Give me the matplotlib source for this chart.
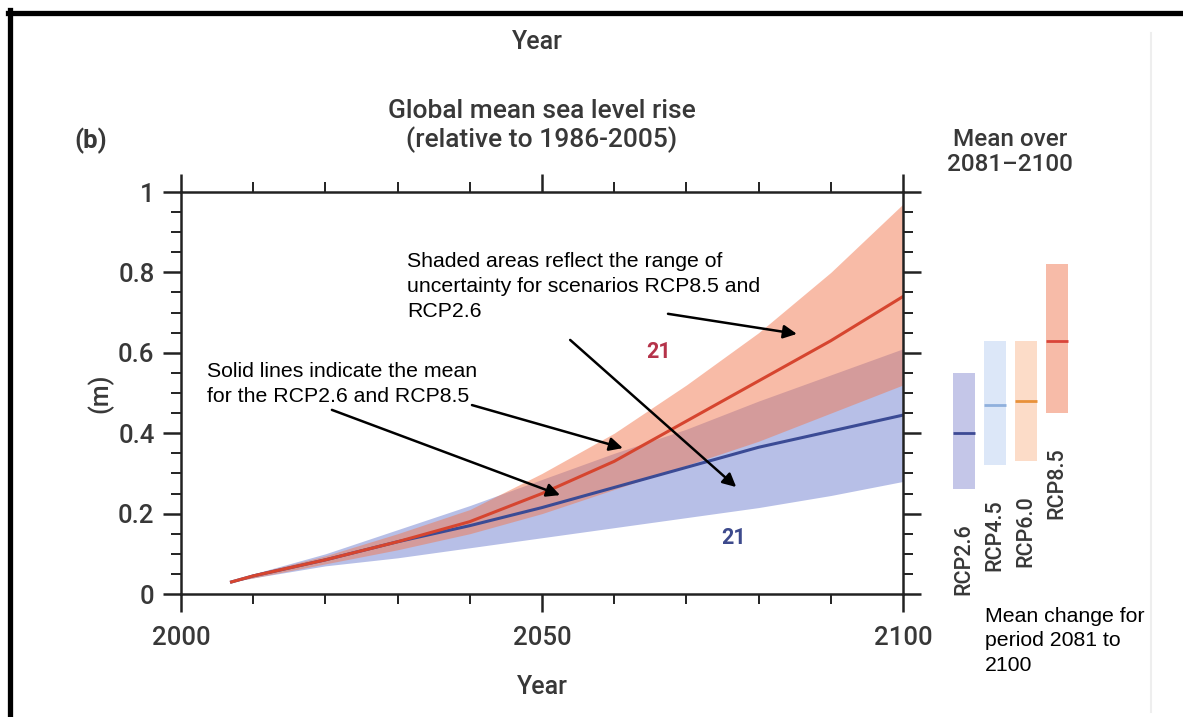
import matplotlib
matplotlib.use("Agg")
import matplotlib.pyplot as plt
from matplotlib.lines import Line2D

# time series
years = [2007, 2010, 2020, 2030, 2040, 2050, 2060, 2070, 2080, 2090, 2100]
rcp85_mean = [0.03, 0.045, 0.085, 0.13, 0.18, 0.25, 0.33, 0.43, 0.53, 0.63, 0.74]
rcp85_low = [0.03, 0.04, 0.075, 0.11, 0.15, 0.20, 0.26, 0.32, 0.38, 0.45, 0.52]
rcp85_high = [0.03, 0.05, 0.095, 0.15, 0.21, 0.30, 0.40, 0.52, 0.65, 0.80, 0.97]
rcp26_mean = [0.03, 0.045, 0.085, 0.13, 0.17, 0.215, 0.265, 0.315, 0.365, 0.405, 0.445]
rcp26_low = [0.03, 0.04, 0.07, 0.09, 0.115, 0.14, 0.165, 0.19, 0.215, 0.245, 0.28]
rcp26_high = [0.03, 0.05, 0.10, 0.16, 0.22, 0.285, 0.35, 0.41, 0.48, 0.545, 0.61]

# side panel: mean over 2081-2100
scenarios = ["RCP2.6", "RCP4.5", "RCP6.0", "RCP8.5"]
bar_low = [0.26, 0.32, 0.33, 0.45]
bar_high = [0.55, 0.63, 0.63, 0.82]
bar_mean = [0.40, 0.47, 0.48, 0.63]
bar_colors = ["#c4c6e8", "#dce7f8", "#fcdcc8", "#f7bba8"]
mean_colors = ["#3d4a94", "#8fb0dc", "#e8913a", "#d9453a"]

W, H = 1183, 717
cond = "Roboto"
arial = "Liberation Sans"
grey = "#383838"


def fx(px):
    return px / W


def fy(py):
    return 1 - py / H


fig = plt.figure(figsize=(W / 100, H / 100), dpi=100)

# main axes
ax = fig.add_axes([fx(181), fy(594), fx(903) - fx(181), fy(192) - fy(594)])
ax.fill_between(years, rcp26_low, rcp26_high, color="#7080d0", alpha=0.5, lw=0)
ax.fill_between(years, rcp85_low, rcp85_high, color="#f27850", alpha=0.5, lw=0)
ax.plot(years, rcp26_mean, color="#3b4b95", lw=2.2)
ax.plot(years, rcp85_mean, color="#d6452f", lw=2.2)

ax.set_xlim(2000, 2100)
ax.set_ylim(0, 1)
ax.set_xticks([2000, 2050, 2100])
ax.set_xticks(range(2000, 2101, 10), minor=True)
ax.set_yticks([0, 0.2, 0.4, 0.6, 0.8, 1])
ax.set_yticklabels(["0", "0.2", "0.4", "0.6", "0.8", "1"])
ax.set_yticks([i * 0.05 for i in range(21)], minor=True)
ax.tick_params(which="both", direction="out", top=True, right=True, colors="#222222",
               labelcolor=grey, labelsize=18.5, width=1.8)
ax.tick_params(which="major", length=13)
ax.tick_params(which="minor", length=7, width=1.4)
ax.tick_params(axis="x", pad=10)
ax.tick_params(axis="y", pad=6)
for lab in ax.get_xticklabels() + ax.get_yticklabels():
    lab.set_family(cond)
    lab.set_fontweight("medium")
for s in ax.spines.values():
    s.set_linewidth(1.8)
    s.set_color("#222222")

ax.set_xlabel("Year", fontsize=18, family=cond, color=grey, labelpad=18, fontweight="medium")

ax.text(2066.2, 0.602, "21", color="#b5334a", fontsize=15.5, fontweight="bold",
        family=cond, ha="center", va="center")
ax.text(2076.5, 0.139, "21", color="#3d4a8c", fontsize=15.5, fontweight="bold",
        family=cond, ha="center", va="center")

ax.text(2003.6, 0.522, "Solid lines indicate the mean\nfor the RCP2.6 and RCP8.5",
        family=arial, fontsize=15.3, ha="left", va="center", linespacing=1.38)
ax.text(2031.3, 0.765, "Shaded areas reflect the range of\nuncertainty for scenarios RCP8.5 and\nRCP2.6",
        family=arial, fontsize=15.3, ha="left", va="center", linespacing=1.38)

arrow = dict(arrowstyle="-|>", color="black", lw=1.8, mutation_scale=20, shrinkA=0, shrinkB=0)
ax.annotate("", xy=(2085.3, 0.647), xytext=(2067.45, 0.697), arrowprops=arrow)
ax.annotate("", xy=(2076.9, 0.266), xytext=(2053.9, 0.632), arrowprops=arrow)
ax.annotate("", xy=(2061.2, 0.363), xytext=(2040.3, 0.470), arrowprops=arrow)
ax.annotate("", xy=(2052.5, 0.246), xytext=(2020.9, 0.458), arrowprops=arrow)

# side panel
ax2 = fig.add_axes([fx(948.5), fy(594), fx(1072.5) - fx(948.5), fy(192) - fy(594)])
ax2.set_xlim(0.5, 4.5)
ax2.set_ylim(0, 1)
ax2.axis("off")
pos = [1, 2, 3, 4]
ax2.bar(pos, [h - l for h, l in zip(bar_high, bar_low)], bottom=bar_low, width=0.71,
        color=bar_colors, lw=0)
for p, m, c in zip(pos, bar_mean, mean_colors):
    ax2.hlines(m, p - 0.355, p + 0.355, color=c, lw=2)
for p, l, name in zip(pos, bar_low, scenarios):
    ax2.text(p, l - 0.085, name, rotation=90, ha="center", va="top", fontsize=15.5,
             family=cond, color=grey, fontweight="medium")

# figure texts
fig.text(fx(542), fy(126), "Global mean sea level rise\n(relative to 1986-2005)", ha="center",
         va="center", fontsize=19, family=cond, color=grey, linespacing=1.15,
         fontweight="medium")
fig.text(fx(91), fy(141), "(b)", ha="center", va="center", fontsize=18.5, family=cond,
         color=grey, fontweight="bold")
fig.text(fx(537), fy(42), "Year", ha="center", va="center", fontsize=18, family=cond,
         color=grey, fontweight="medium")
fig.text(fx(100), fy(393), "(m)", ha="center", va="center", rotation=90, fontsize=18,
         family=cond, color=grey, fontweight="medium")
fig.text(fx(1010), fy(152), "Mean over\n2081\u20132100", ha="center", va="center", fontsize=17.5,
         family=cond, color=grey, linespacing=1.15, fontweight="medium")
fig.text(fx(985), fy(641), "Mean change for\nperiod 2081 to\n2100", ha="left", va="center",
         fontsize=15.3, family=arial, linespacing=1.38)

# frame lines of the screenshot
fig.add_artist(Line2D([fx(9.5), fx(9.5)], [fy(10), 0], color="black", lw=3.8))
fig.add_artist(Line2D([fx(7.5), 1], [fy(12.5), fy(12.5)], color="black", lw=3.8))
fig.add_artist(Line2D([fx(1151), fx(1151)], [fy(33), fy(712)], color="#eeeeee", lw=1.5))

fig.savefig("out.png", dpi=100)
